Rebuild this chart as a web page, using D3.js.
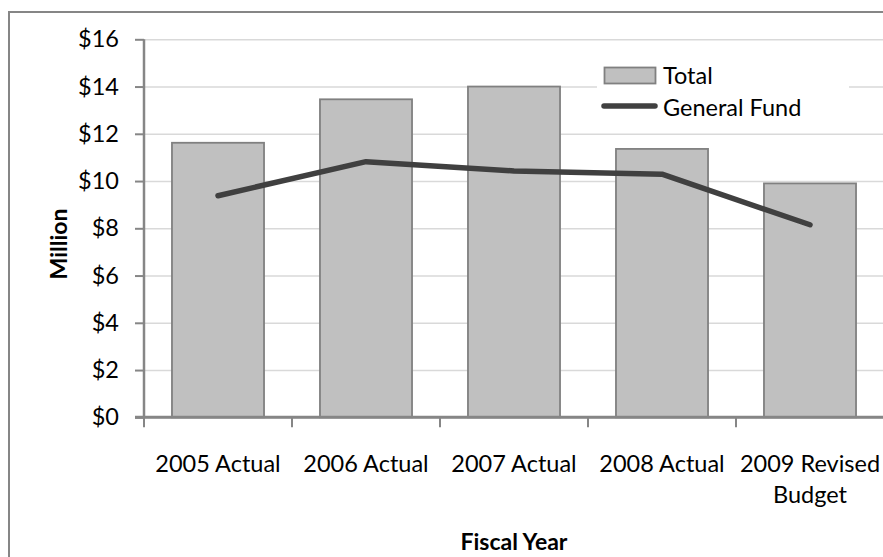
<!DOCTYPE html>
<html>
<head>
<meta charset="utf-8">
<script src="https://cdn.jsdelivr.net/npm/d3@7"></script>
<style>
  body { margin: 0; background: #fff; }
  svg text { font-family: Lato, "Open Sans", sans-serif; fill: #000; }
</style>
</head>
<body>
<div class="container"></div>
<script>
const WIDTH = 883;
const HEIGHT = 557;
const PLOT_LEFT = 144;
const PLOT_TOP = 39.3;
const PLOT_BOTTOM = 417.3;
const BAND = 148;
const FONT = 23.5;
const TITLE_FONT = 23;

var categories = ["2005 Actual", "2006 Actual", "2007 Actual", "2008 Actual", "2009 Revised\nBudget"];
var totalValues = [11.62, 13.46, 14.0, 11.36, 9.9];
var generalFundValues = [9.38, 10.82, 10.43, 10.29, 8.15];
var yTicks = [0, 2, 4, 6, 8, 10, 12, 14, 16];
var seriesNames = ["Total", "General Fund"];

var translate = function(x, y){
	return "translate(" + x + "," + y + ")";
};

var createChart = function(){
	var svg = d3.select('.container').append('svg')
		.attr('width', WIDTH)
		.attr('height', HEIGHT);

	svg.append('rect')
		.attr('width', WIDTH).attr('height', HEIGHT)
		.attr('fill', '#fff');

	// outer chart border, runs off the right and bottom edge
	svg.append('rect')
		.attr('x', 9).attr('y', 12)
		.attr('width', 950).attr('height', 650)
		.attr('fill', 'none')
		.attr('stroke', '#868686')
		.attr('stroke-width', 2);

	var xScale = d3.scaleBand()
		.domain(categories)
		.range([PLOT_LEFT, PLOT_LEFT + BAND * categories.length])
		.paddingInner(0.378)
		.paddingOuter(0.189);

	var xPoint = function(d){ return xScale(d) + xScale.bandwidth() / 2; };

	var yScale = d3.scaleLinear()
		.domain([0, 16])
		.range([PLOT_BOTTOM, PLOT_TOP]);

	// gridlines
	svg.append('g')
		.attr('transform', translate(PLOT_LEFT, 0))
		.call(d3.axisLeft(yScale).tickValues(yTicks).tickSize(-(WIDTH - PLOT_LEFT)).tickFormat(''))
		.call(function(g){
			g.select('.domain').remove();
			g.selectAll('line').attr('stroke', '#d9d9d9').attr('stroke-width', 1.5);
		});

	// bars
	svg.append('g').selectAll('rect')
		.data(totalValues)
		.enter().append('rect')
		.attr('x', function(d, i){ return xScale(categories[i]); })
		.attr('y', function(d){ return yScale(d); })
		.attr('width', xScale.bandwidth())
		.attr('height', function(d){ return PLOT_BOTTOM - yScale(d); })
		.attr('fill', '#c0c0c0')
		.attr('stroke', '#808080')
		.attr('stroke-width', 1.8);

	// y axis
	svg.append('g')
		.attr('transform', translate(PLOT_LEFT, 0))
		.call(d3.axisLeft(yScale).tickValues(yTicks).tickSize(9).tickPadding(16)
			.tickFormat(function(d){ return '$' + d; }))
		.call(function(g){
			g.select('.domain').attr('stroke', '#868686').attr('stroke-width', 2.5)
				.attr('d', 'M0,' + PLOT_TOP + 'V' + PLOT_BOTTOM);
			g.selectAll('line').attr('stroke', '#868686').attr('stroke-width', 2);
			g.selectAll('text').attr('font-size', FONT).attr('fill', '#000')
				.attr('font-family', 'Lato, sans-serif');
		});

	// x axis with ticks on category boundaries
	var boundaries = d3.range(categories.length + 1).map(function(i){ return PLOT_LEFT + i * BAND; });
	var xAxisG = svg.append('g').attr('transform', translate(0, PLOT_BOTTOM));
	xAxisG.append('line')
		.attr('x1', PLOT_LEFT - 9).attr('x2', PLOT_LEFT + BAND * categories.length)
		.attr('stroke', '#868686').attr('stroke-width', 3);
	xAxisG.selectAll('.bt').data(boundaries).enter().append('line')
		.attr('x1', function(d){ return d; }).attr('x2', function(d){ return d; })
		.attr('y1', 0).attr('y2', 10)
		.attr('stroke', '#868686').attr('stroke-width', 2);

	var labels = svg.append('g').selectAll('text')
		.data(categories)
		.enter().append('text')
		.attr('text-anchor', 'middle')
		.attr('font-size', FONT)
		.attr('y', 472);
	labels.each(function(d){
		var t = d3.select(this);
		d.split('\n').forEach(function(line, j){
			t.append('tspan')
				.attr('x', xPoint(d))
				.attr('dy', j === 0 ? 0 : 31)
				.text(line);
		});
	});

	// general fund line
	var line = d3.line()
		.x(function(d, i){ return xPoint(categories[i]); })
		.y(function(d){ return yScale(d); });

	svg.append('path')
		.datum(generalFundValues)
		.attr('d', line)
		.attr('fill', 'none')
		.attr('stroke', '#404040')
		.attr('stroke-width', 5.5)
		.attr('stroke-linecap', 'round')
		.attr('stroke-linejoin', 'round');

	// legend
	var legend = svg.append('g');
	legend.append('rect')
		.attr('x', 597).attr('y', 60).attr('width', 252).attr('height', 64)
		.attr('fill', '#fff');
	legend.append('rect')
		.attr('x', 604.5).attr('y', 67.5).attr('width', 51).attr('height', 16)
		.attr('fill', '#c0c0c0').attr('stroke', '#808080').attr('stroke-width', 1.8);
	legend.append('line')
		.attr('x1', 604).attr('x2', 655).attr('y1', 106).attr('y2', 106)
		.attr('stroke', '#404040').attr('stroke-width', 5.5).attr('stroke-linecap', 'round');
	legend.selectAll('text')
		.data(seriesNames)
		.enter().append('text')
		.attr('x', 663)
		.attr('y', function(d, i){ return 84 + i * 32; })
		.attr('font-size', FONT)
		.text(function(d){ return d; });

	// axis titles
	svg.append('text')
		.attr('x', 514).attr('y', 550)
		.attr('text-anchor', 'middle')
		.attr('font-size', TITLE_FONT)
		.attr('font-weight', 'bold')
		.text('Fiscal Year');

	svg.append('text')
		.attr('transform', translate(67, 244) + ' rotate(-90)')
		.attr('text-anchor', 'middle')
		.attr('font-size', TITLE_FONT)
		.attr('font-weight', 'bold')
		.text('Million');
};

window.onload = createChart;
</script>
</body>
</html>
